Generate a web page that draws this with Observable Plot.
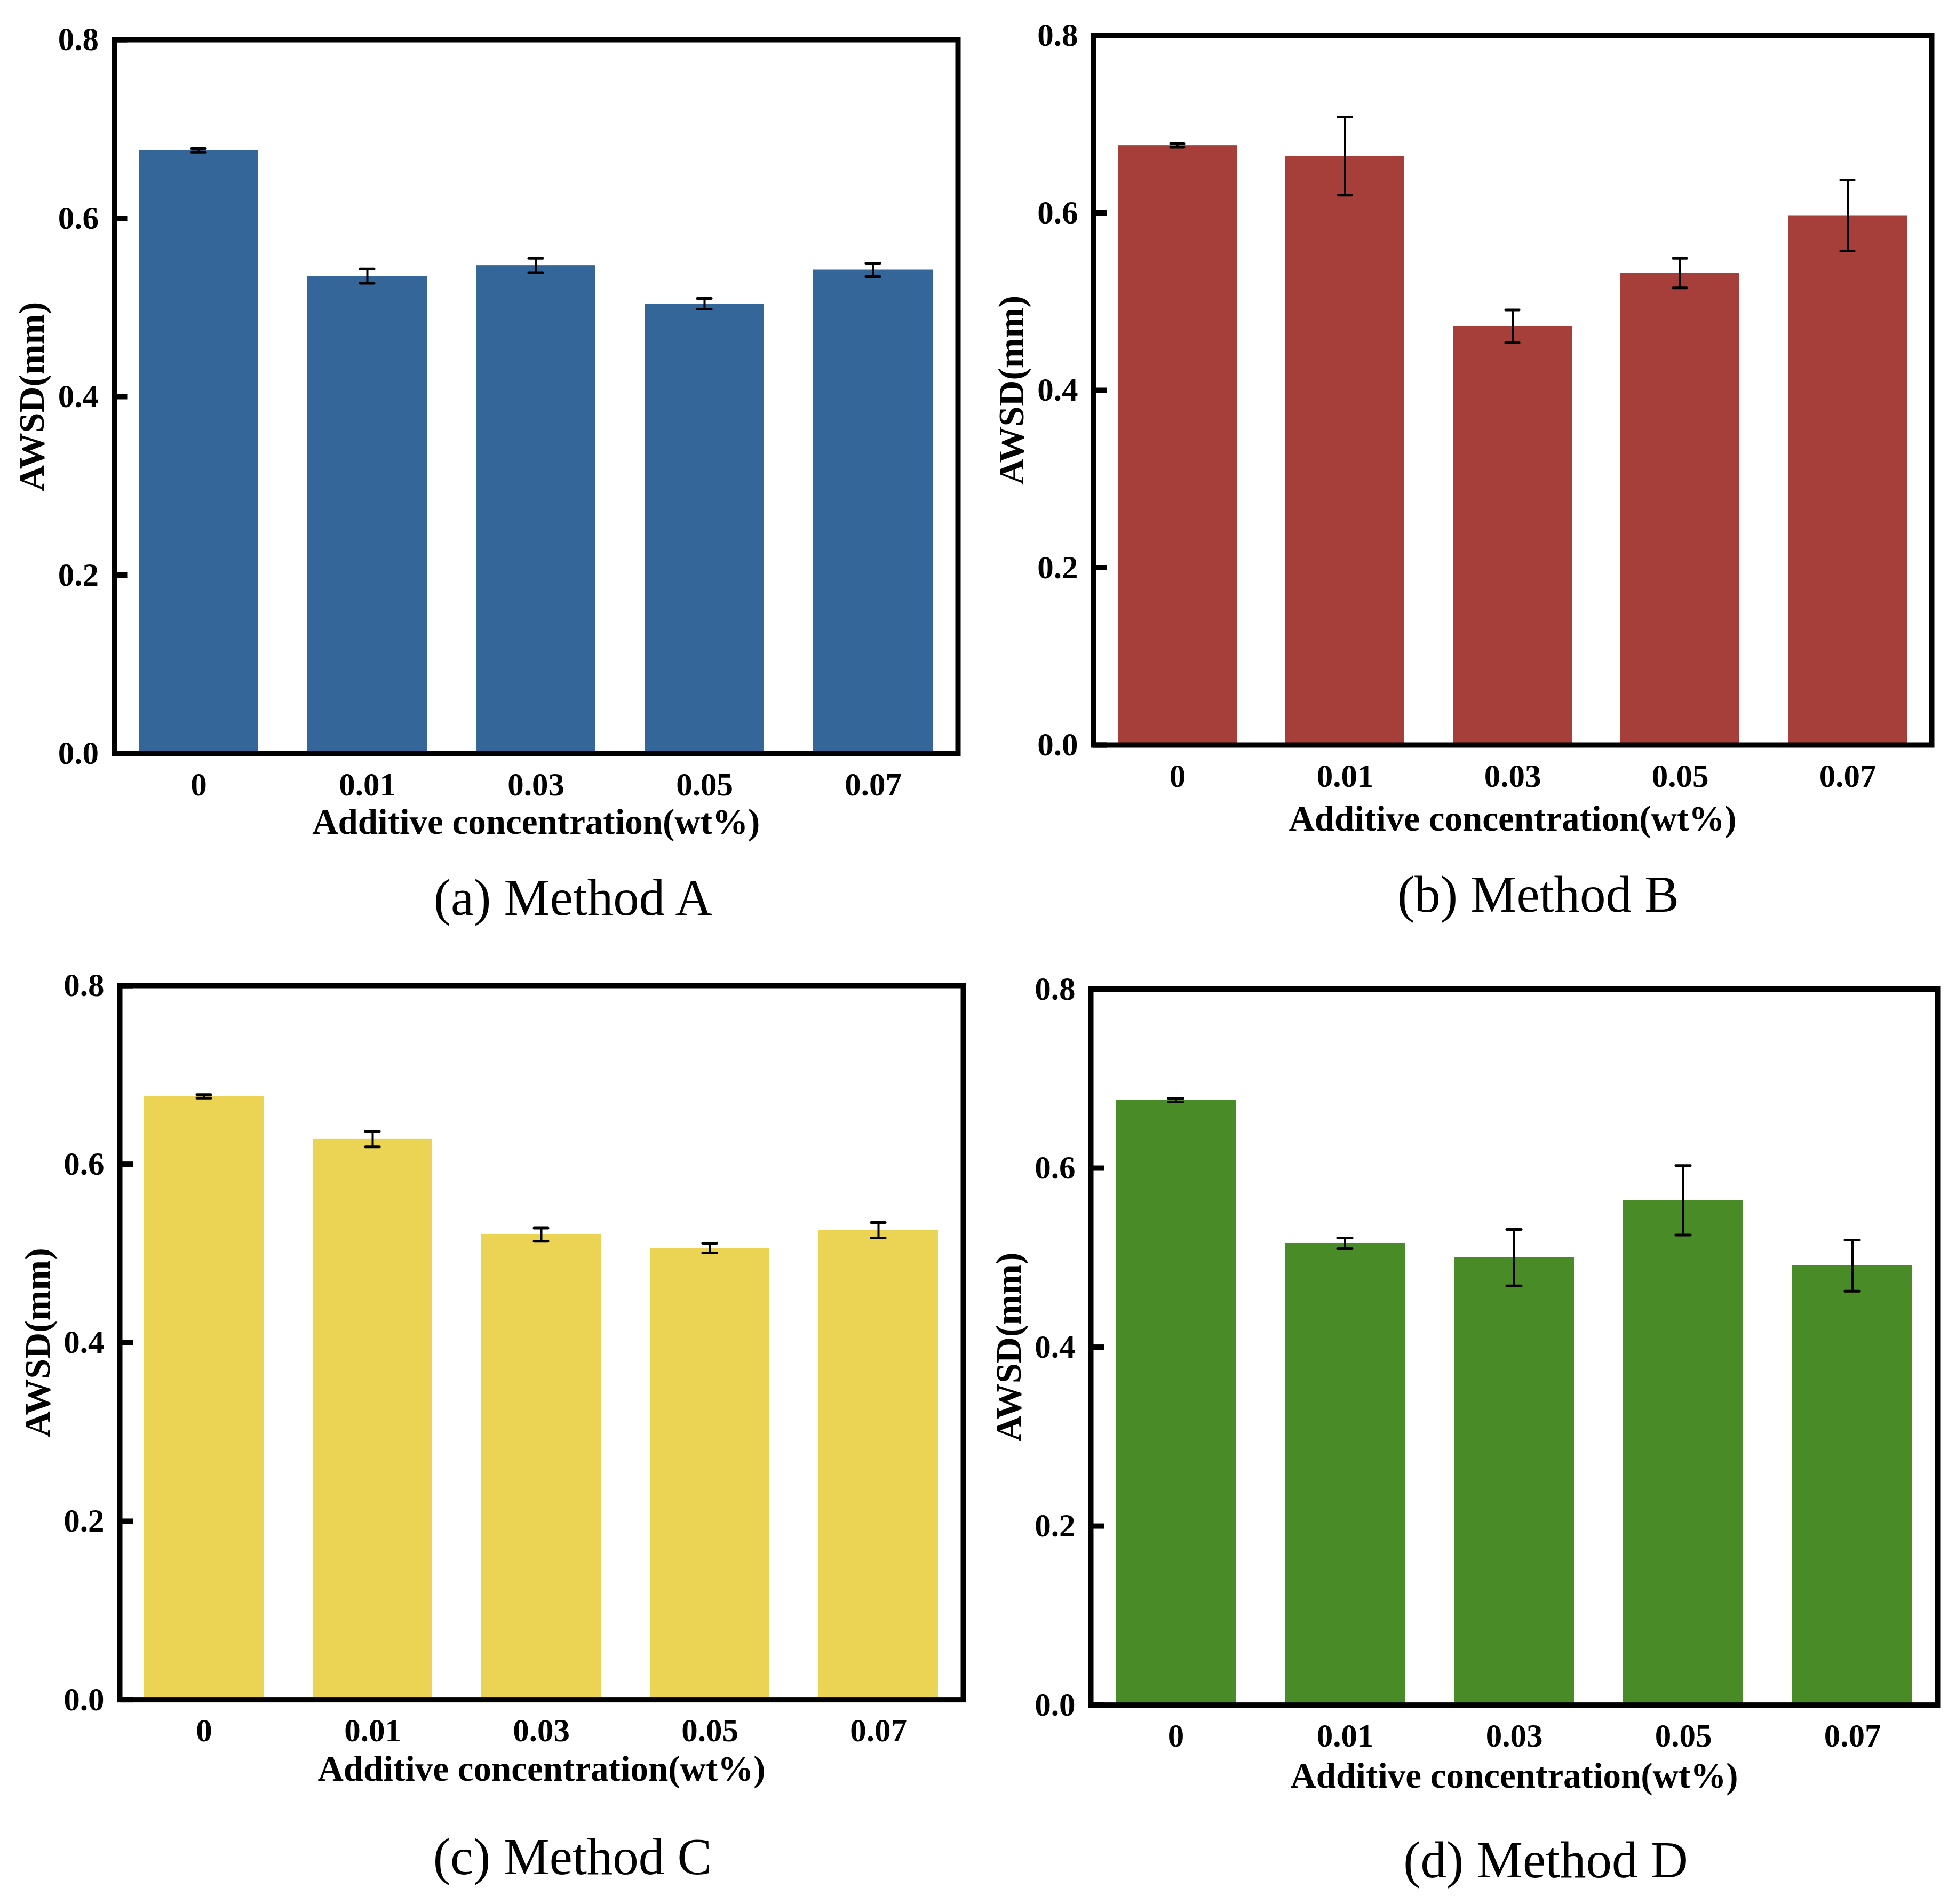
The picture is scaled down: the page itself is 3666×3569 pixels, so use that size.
<!DOCTYPE html>
<html><head><meta charset="utf-8">
<script src="https://cdn.jsdelivr.net/npm/d3@7"></script>
<script src="https://cdn.jsdelivr.net/npm/@observablehq/plot@0.6"></script>
<style>
html,body{margin:0;padding:0;background:#fff;}
#root{position:relative;width:3666px;height:3569px;background:#fff;overflow:hidden;}
.panel{position:absolute;}
.caption{position:absolute;font-family:"Liberation Serif","Times New Roman",serif;font-size:97px;line-height:97px;white-space:nowrap;transform:translateX(-50%);color:#000;}
</style></head><body><div id="root"></div>
<script>
// ---- data ----
const categories = ["0", "0.01", "0.03", "0.05", "0.07"];
const valuesA = [0.676, 0.535, 0.547, 0.504, 0.542];
const errorsA = [0.002, 0.008, 0.008, 0.006, 0.0075];
const valuesB = [0.676, 0.664, 0.472, 0.532, 0.597];
const errorsB = [0.002, 0.044, 0.0185, 0.0167, 0.040];
const valuesC = [0.676, 0.628, 0.521, 0.506, 0.526];
const errorsC = [0.002, 0.0087, 0.0074, 0.0054, 0.0087];
const valuesD = [0.676, 0.516, 0.500, 0.564, 0.491];
const errorsD = [0.002, 0.006, 0.0315, 0.0388, 0.0286];
const yTicks = [0, 0.2, 0.4, 0.6, 0.8];
const yLabel = "AWSD(mm)";
const xLabel = "Additive concentration(wt%)";
const captions = ["(a) Method A", "(b) Method B", "(c) Method C", "(d) Method D"];
const colors = ["#35669A", "#A63F39", "#EBD453", "#498B26"];

// ---- layout (page pixels) ----
const layout = [
  {left: 0,    top: 0,    width: 1833, height: 1620, mt: 74,   mr: 38, mb: 208,   ml: 213.5, titleOffset: 150, capX: 1074, capBase: 1715},
  {left: 1833, top: 0,    width: 1833, height: 1620, mt: 66,   mr: 46, mb: 224,   ml: 216,   titleOffset: 160, capX: 2883, capBase: 1709},
  {left: 0,    top: 1785, width: 1833, height: 1620, mt: 62,   mr: 28, mb: 219.4, ml: 224,   titleOffset: 152, capX: 1073, capBase: 3513},
  {left: 1833, top: 1785, width: 1833, height: 1620, mt: 68.5, mr: 35, mb: 209.4, ml: 211,   titleOffset: 155, capX: 2897, capBase: 3519}
];

const series = [[valuesA, errorsA], [valuesB, errorsB], [valuesC, errorsC], [valuesD, errorsD]];
const root = document.getElementById("root");
const font = "Liberation Serif, Times New Roman, serif";

series.forEach(([vals, errs], i) => {
  const L = layout[i];
  const data = categories.map((c, j) => ({c, v: vals[j], e: errs[j]}));
  const chart = Plot.plot({
    width: L.width,
    height: L.height,
    marginTop: L.mt,
    marginRight: L.mr,
    marginBottom: L.mb,
    marginLeft: L.ml,
    style: {fontFamily: font, background: "transparent", overflow: "visible", color: "#000"},
    x: {domain: categories, paddingInner: 0.29, paddingOuter: 0.145},
    y: {domain: [0, 0.8]},
    marks: [
      Plot.barY(data, {x: "c", y: "v", fill: colors[i]}),
      Plot.ruleX(data, {x: "c", y1: d => d.v - d.e, y2: d => d.v + d.e, stroke: "#000", strokeWidth: 4}),
      Plot.tickY(data, {x: "c", y: d => d.v - d.e, stroke: "#000", strokeWidth: 5, inset: 99, strokeLinecap: "round"}),
      Plot.tickY(data, {x: "c", y: d => d.v + d.e, stroke: "#000", strokeWidth: 5, inset: 99, strokeLinecap: "round"}),
      Plot.frame({stroke: "#000", strokeWidth: 10}),
      Plot.axisY(yTicks, {tickSize: -25, tickPadding: 54, strokeWidth: 10, tickFormat: d3.format(".1f"), fontSize: 61, fontWeight: "bold", label: null}),
      Plot.axisY([], {tickSize: 0, label: yLabel, labelAnchor: "center", labelArrow: "none", labelOffset: 179.8, fontSize: 68, fontWeight: "bold"}),
      Plot.axisX({tickSize: 0, tickPadding: 35, fontSize: 61, fontWeight: "bold", label: null}),
      Plot.axisX([], {tickSize: 0, label: xLabel, labelAnchor: "center", labelOffset: L.titleOffset, fontSize: 67, fontWeight: "bold"})
    ]
  });
  const wrap = document.createElement("div");
  wrap.className = "panel";
  wrap.style.left = L.left + "px";
  wrap.style.top = L.top + "px";
  wrap.appendChild(chart);
  root.appendChild(wrap);

  const cap = document.createElement("div");
  cap.className = "caption";
  cap.textContent = captions[i];
  cap.style.left = L.capX + "px";
  cap.style.top = (L.capBase - 81.2) + "px";
  root.appendChild(cap);
});
</script>
</body></html>
